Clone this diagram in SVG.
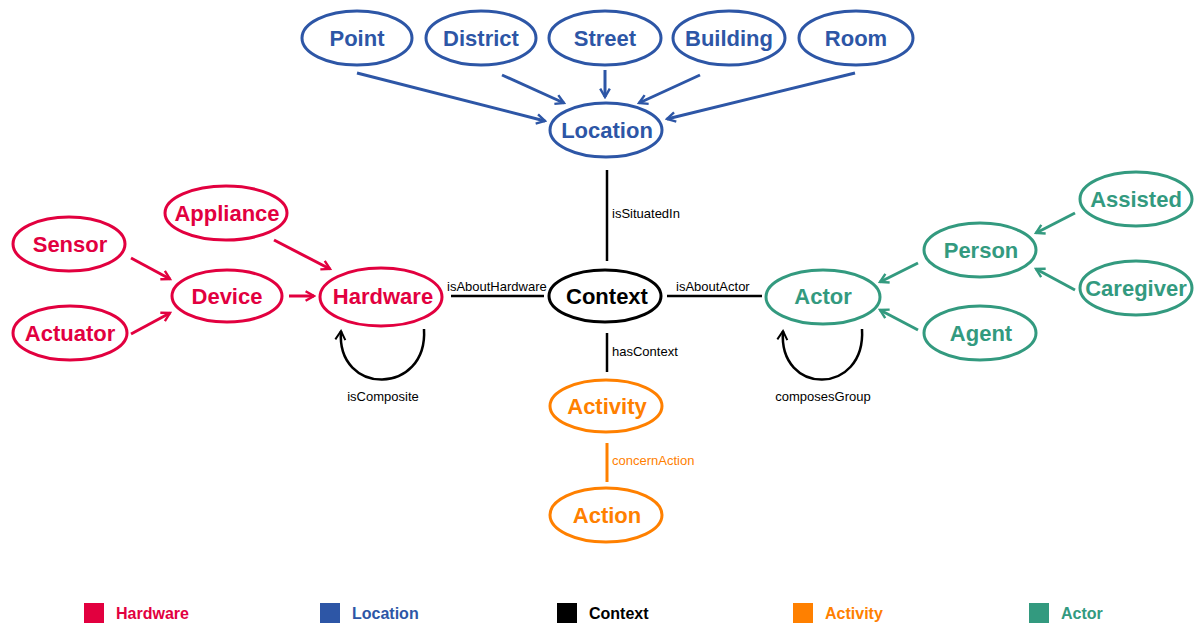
<svg xmlns="http://www.w3.org/2000/svg" width="1199" height="625" viewBox="0 0 1199 625">
<style>
.n{fill:#fff;stroke-width:3}
.t{font-family:"Liberation Sans",Arial,sans-serif;font-weight:bold;font-size:22px;text-anchor:middle;dominant-baseline:central}
.l{font-family:"Liberation Sans",Arial,sans-serif;font-size:13px}
.g{font-family:"Liberation Sans",Arial,sans-serif;font-weight:bold;font-size:16px}
.hw{stroke:#E2003F}.hwt{fill:#E2003F}
.lo{stroke:#2D56A6}.lot{fill:#2D56A6}
.ac{stroke:#339A7F}.act{fill:#339A7F}
.av{stroke:#FF8000}.avt{fill:#FF8000}
.cx{stroke:#000}.cxt{fill:#000}
.e{fill:none;stroke-width:3}
.k{fill:none;stroke:#000;stroke-width:2.5}
</style>
<defs>
<marker id="mhw" viewBox="0 0 10 10" refX="8" refY="5" markerWidth="4" markerHeight="4" orient="auto" markerUnits="strokeWidth"><path d="M1,1 L8,5 L1,9" fill="none" stroke="#E2003F" stroke-width="2"/></marker>
<marker id="mlo" viewBox="0 0 10 10" refX="8" refY="5" markerWidth="4" markerHeight="4" orient="auto" markerUnits="strokeWidth"><path d="M1,1 L8,5 L1,9" fill="none" stroke="#2D56A6" stroke-width="2"/></marker>
<marker id="mac" viewBox="0 0 10 10" refX="8" refY="5" markerWidth="4" markerHeight="4" orient="auto" markerUnits="strokeWidth"><path d="M1,1 L8,5 L1,9" fill="none" stroke="#339A7F" stroke-width="2"/></marker>
<marker id="mk" viewBox="0 0 10 10" refX="8" refY="5" markerWidth="5" markerHeight="5" orient="auto" markerUnits="strokeWidth"><path d="M1,1 L8,5 L1,9" fill="none" stroke="#000" stroke-width="1.6"/></marker>
</defs>
<rect width="1199" height="625" fill="#fff"/>
<g id="connectors">
<line class="e lo" x1="357" y1="73" x2="545" y2="121" marker-end="url(#mlo)"/>
<line class="e lo" x1="502" y1="75" x2="564" y2="103" marker-end="url(#mlo)"/>
<line class="e lo" x1="605" y1="70" x2="605" y2="97" marker-end="url(#mlo)"/>
<line class="e lo" x1="700" y1="75" x2="639" y2="103" marker-end="url(#mlo)"/>
<line class="e lo" x1="855" y1="73" x2="667" y2="119" marker-end="url(#mlo)"/>
<line class="e hw" x1="131" y1="258" x2="170" y2="279" marker-end="url(#mhw)"/>
<line class="e hw" x1="131" y1="334" x2="170" y2="313" marker-end="url(#mhw)"/>
<line class="e hw" x1="289" y1="296" x2="314" y2="296" marker-end="url(#mhw)"/>
<line class="e hw" x1="274" y1="240" x2="330" y2="269" marker-end="url(#mhw)"/>
<line class="e ac" x1="1075" y1="213" x2="1036" y2="233" marker-end="url(#mac)"/>
<line class="e ac" x1="1075" y1="290" x2="1036" y2="269" marker-end="url(#mac)"/>
<line class="e ac" x1="918" y1="263" x2="880" y2="282" marker-end="url(#mac)"/>
<line class="e ac" x1="918" y1="330" x2="880" y2="310" marker-end="url(#mac)"/>
<line class="k" x1="607" y1="170" x2="607" y2="261"/>
<text class="l" x="612" y="218">isSituatedIn</text>
<line class="k" x1="607" y1="333" x2="607" y2="372"/>
<text class="l" x="612" y="356">hasContext</text>
<line class="e av" x1="607" y1="443" x2="607" y2="482"/>
<text class="l avt" x="612" y="465">concernAction</text>
<line class="k" x1="451" y1="296" x2="544" y2="296"/>
<text class="l" x="447" y="291">isAboutHardware</text>
<line class="k" x1="667" y1="296" x2="762" y2="296"/>
<text class="l" x="676" y="291">isAboutActor</text>
<path class="k" d="M424,329 C428,396 336,396 341,331" marker-end="url(#mk)"/>
<text class="l" x="383" y="401" text-anchor="middle">isComposite</text>
<path class="k" d="M862,329 C866,396 778,396 783,331" marker-end="url(#mk)"/>
<text class="l" x="823" y="401" text-anchor="middle">composesGroup</text>
</g>
<g id="point"><ellipse class="n lo" cx="357" cy="38" rx="55" ry="27"/><text class="t lot" x="357" y="38">Point</text></g>
<g id="district"><ellipse class="n lo" cx="481" cy="38" rx="55" ry="27"/><text class="t lot" x="481" y="38">District</text></g>
<g id="street"><ellipse class="n lo" cx="605" cy="38" rx="56" ry="27"/><text class="t lot" x="605" y="38">Street</text></g>
<g id="building"><ellipse class="n lo" cx="729" cy="38" rx="56" ry="27"/><text class="t lot" x="729" y="38">Building</text></g>
<g id="room"><ellipse class="n lo" cx="856" cy="38" rx="57" ry="27"/><text class="t lot" x="856" y="38">Room</text></g>
<g id="location"><ellipse class="n lo" cx="606" cy="130" rx="56" ry="27"/><text class="t lot" x="607" y="130">Location</text></g>
<g id="context"><ellipse class="n cx" cx="605" cy="296" rx="56" ry="26" stroke-width="3.5"/><text class="t cxt" x="607" y="296">Context</text></g>
<g id="activity"><ellipse class="n av" cx="606" cy="406" rx="56" ry="26"/><text class="t avt" x="607" y="406">Activity</text></g>
<g id="action"><ellipse class="n av" cx="606" cy="515" rx="56" ry="27"/><text class="t avt" x="607" y="515">Action</text></g>
<g id="hardware"><ellipse class="n hw" cx="381" cy="297" rx="61" ry="29"/><text class="t hwt" x="383" y="296">Hardware</text></g>
<g id="device"><ellipse class="n hw" cx="227" cy="296" rx="55" ry="26"/><text class="t hwt" x="227" y="296">Device</text></g>
<g id="appliance"><ellipse class="n hw" cx="226" cy="213" rx="61" ry="27"/><text class="t hwt" x="227" y="213">Appliance</text></g>
<g id="sensor"><ellipse class="n hw" cx="69" cy="244" rx="56" ry="27"/><text class="t hwt" x="70" y="244">Sensor</text></g>
<g id="actuator"><ellipse class="n hw" cx="70" cy="333" rx="57" ry="27"/><text class="t hwt" x="70" y="333">Actuator</text></g>
<g id="actor"><ellipse class="n ac" cx="823" cy="297" rx="57" ry="27"/><text class="t act" x="823" y="296">Actor</text></g>
<g id="person"><ellipse class="n ac" cx="980" cy="250" rx="56" ry="27"/><text class="t act" x="981" y="250">Person</text></g>
<g id="assisted"><ellipse class="n ac" cx="1136" cy="199" rx="56" ry="27"/><text class="t act" x="1136" y="199">Assisted</text></g>
<g id="caregiver"><ellipse class="n ac" cx="1136" cy="288" rx="56" ry="27"/><text class="t act" x="1136" y="288">Caregiver</text></g>
<g id="agent"><ellipse class="n ac" cx="980" cy="333" rx="56" ry="27"/><text class="t act" x="981" y="333">Agent</text></g>
<g id="legend">
<rect x="84" y="603" width="20" height="20" fill="#E2003F"/><text class="g hwt" x="116" y="619">Hardware</text>
<rect x="320" y="603" width="20" height="20" fill="#2D56A6"/><text class="g lot" x="352" y="619">Location</text>
<rect x="557" y="603" width="20" height="20" fill="#000"/><text class="g cxt" x="589" y="619">Context</text>
<rect x="793" y="603" width="20" height="20" fill="#FF8000"/><text class="g avt" x="825" y="619">Activity</text>
<rect x="1029" y="603" width="20" height="20" fill="#339A7F"/><text class="g act" x="1061" y="619">Actor</text>
</g>
</svg>
